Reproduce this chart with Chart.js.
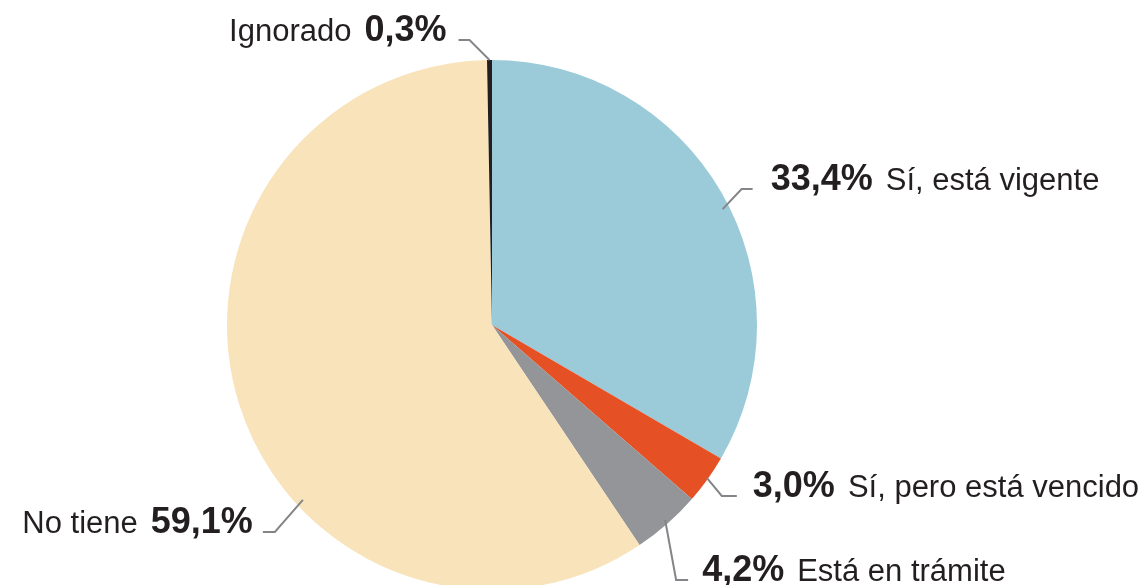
<!DOCTYPE html>
<html>
<head>
<meta charset="utf-8">
<script src="https://cdn.jsdelivr.net/npm/chart.js@4/dist/chart.umd.min.js"></script>
<style>
  html, body { margin: 0; padding: 0; background: #fff; overflow: hidden; }
  #wrap { position: relative; width: 1142px; height: 650px; }
</style>
</head>
<body>
<div id="wrap"><canvas id="pie"></canvas></div>
<script>
  // data (clockwise from 12 o'clock)
  const labels = ["Sí, está vigente", "Sí, pero está vencido", "Está en trámite", "No tiene", "Ignorado"];
  const values = [33.4, 3.0, 4.2, 59.1, 0.3];
  const pctText = ["33,4%", "3,0%", "4,2%", "59,1%", "0,3%"];
  const colors = ["#9bcad8", "#e55124", "#939598", "#f8e3ba", "#231f20"];

  // leader line / label placement
  const callouts = [
    { shift: 3.2,   rf: 0.974, elbow: [19, -20], run: 11,  gap: 18, side: "right" },
    { shift: -0.2,  rf: 0.995, elbow: [15, 18],  run: 15,  gap: 16, side: "right" },
    { shift: -0.2,  rf: 0.984, elbow: [11, 60],  run: 12,  gap: 14, side: "right" },
    { shift: -25.3, rf: 0.972, elbow: [-28, 32], run: -12, gap: 10, side: "left" },
    { shift: 0,     rf: 1.0,   elbow: [-20, -20], run: -11, gap: 12, side: "left" }
  ];

  const boldFont = "bold 36px 'Liberation Sans', Arial, sans-serif";
  const regFont = "31px 'Liberation Sans', Arial, sans-serif";
  const textColor = "#231f20";

  const calloutPlugin = {
    id: "callouts",
    afterDatasetsDraw(chart) {
      const ctx = chart.ctx;
      const arcs = chart.getDatasetMeta(0).data;
      ctx.save();
      arcs.forEach((arc, i) => {
        const c = callouts[i];
        const p = arc.getProps(["x", "y", "startAngle", "endAngle", "outerRadius"], true);
        const a = (p.startAngle + p.endAngle) / 2 + c.shift * Math.PI / 180;
        const sx = p.x + Math.cos(a) * p.outerRadius * c.rf;
        const sy = p.y + Math.sin(a) * p.outerRadius * c.rf;
        const ex = sx + c.elbow[0], ey = sy + c.elbow[1];
        const tx = ex + c.run;

        ctx.strokeStyle = "#838588";
        ctx.lineWidth = 2;
        ctx.beginPath();
        ctx.moveTo(sx, sy);
        ctx.lineTo(ex, ey);
        ctx.lineTo(tx, ey);
        ctx.stroke();

        ctx.fillStyle = textColor;
        ctx.textBaseline = "alphabetic";
        const base = ey + 1;
        if (c.side === "right") {
          const x0 = tx + c.gap;
          ctx.font = boldFont;
          ctx.textAlign = "left";
          ctx.fillText(pctText[i], x0, base);
          const w = ctx.measureText(pctText[i]).width;
          ctx.font = regFont;
          ctx.fillText(labels[i], x0 + w + 13, base);
        } else {
          const x1 = tx - c.gap;
          ctx.font = boldFont;
          ctx.textAlign = "right";
          ctx.fillText(pctText[i], x1, base);
          const w = ctx.measureText(pctText[i]).width;
          ctx.font = regFont;
          ctx.fillText(labels[i], x1 - w - 13, base);
        }
      });
      ctx.restore();
    }
  };

  new Chart(document.getElementById("pie"), {
    type: "pie",
    data: {
      labels: labels,
      datasets: [{ data: values, backgroundColor: colors, borderWidth: 0 }]
    },
    options: {
      responsive: true,
      maintainAspectRatio: false,
      animation: false,
      layout: { padding: { left: 227, right: 385, top: 60, bottom: 60 } },
      plugins: { legend: { display: false }, tooltip: { enabled: false } }
    },
    plugins: [calloutPlugin]
  });
</script>
</body>
</html>
